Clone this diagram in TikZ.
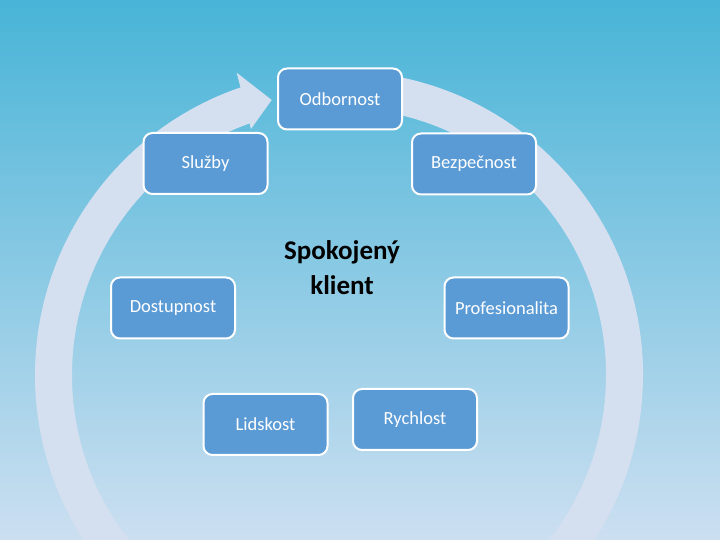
\documentclass[tikz,border=0pt]{standalone}
\usepackage{fontspec}
\setmainfont{Carlito}
\usetikzlibrary{calc}
\definecolor{bgtop}{HTML}{48B4D7}
\definecolor{bgmid}{HTML}{8EC6E4}
\definecolor{bgbot}{HTML}{CCDFF1}
\definecolor{ringcol}{HTML}{D4DFF0}
\definecolor{boxfill}{HTML}{5B9BD5}
\tikzset{
  item/.style={draw=white, line width=2pt, fill=boxfill, rounded corners=9pt,
    minimum width=124pt, minimum height=61pt, inner sep=0pt,
    text=white, font=\fontsize{18.5}{22}\selectfont},
  centre/.style={align=center, text=black,
    font=\fontsize{27}{35}\selectfont\bfseries}
}
\begin{document}
\begin{tikzpicture}[x=1pt,y=1pt]
\useasboundingbox (0,0) rectangle (720,540);
\clip (0,0) rectangle (720,540);
\shade[top color=bgtop, middle color=bgmid, bottom color=bgbot] (0,0) rectangle (720,540);
% circular arrow
\coordinate (c) at (339,165);
\draw[ringcol, line width=37pt] (c) ++(88:285.5) arc[start angle=88, end angle=-251.3, radius=285.5];
\coordinate (hb1) at (236.7,467.3);
\coordinate (htip) at (271.7,440);
\coordinate (hb2) at (251,411);
\fill[ringcol] (hb1) -- (htip) -- (hb2) -- cycle;
% nodes
\node[item] (odb) at (340,441) {Odbornost};
\node[item] (slu) at (205.5,376.5) {Služby};
\node[item] (bez) at (474,376) {Bezpečnost};
\node[item] (dos) at (173,232) {Dostupnost};
\node[item] (pro) at (506.5,232) {Profesionalita};
\node[item] (lid) at (265.5,115.5) {Lidskost};
\node[item] (ryc) at (415,120.5) {Rychlost};
\node[centre] (klient) at (342,272) {Spokojený\\klient};
\end{tikzpicture}
\end{document}
